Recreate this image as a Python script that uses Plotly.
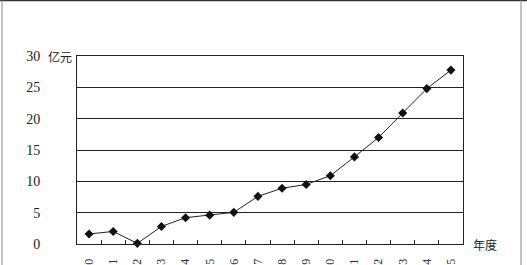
import plotly.graph_objects as go

years = [str(y) for y in range(1990, 2006)]
values = [1.6, 2.0, 0.1, 2.8, 4.2, 4.6, 5.05, 7.6, 8.9, 9.5, 10.9, 13.9, 17.0, 20.9, 24.8, 27.75]
y_ticks = [0, 5, 10, 15, 20, 25, 30]
y_tick_text = ["0", "5", "10", "15", "20", "25", "30"]
y_unit = "亿元"
x_unit = "年度"

W, H = 527, 265
L, R, T, B = 77, 64, 56, 21
pw, ph = W - L - R, H - T - B

def px(x):
    return (x - L) / pw

def py(y):
    return (H - B - y) / ph

fig = go.Figure()
fig.add_trace(go.Scatter(
    x=years, y=values, mode="lines+markers",
    line=dict(color="#222", width=1),
    marker=dict(symbol="diamond", size=7, color="#111"),
    cliponaxis=False, showlegend=False,
))

serif = "Liberation Serif, Times New Roman, serif"
cjk = "Noto Sans CJK SC"

fig.update_layout(
    width=W, height=H, margin=dict(l=L, r=R, t=T, b=B, autoexpand=False),
    paper_bgcolor="white", plot_bgcolor="white",
    xaxis=dict(
        type="category", showgrid=False, showline=True, mirror=True,
        linecolor="#222", linewidth=1, ticks="inside", ticklen=4, tickcolor="#222",
        tickson="boundaries", tickangle=-90, automargin=False,
        ticklabelstandoff=9,
        tickfont=dict(family=serif, size=12, color="#333"),
        range=[-0.5, len(years) - 0.5],
    ),
    yaxis=dict(
        range=[0, 30], tickvals=y_ticks, ticktext=y_tick_text,
        showgrid=True, gridcolor="#222", gridwidth=1,
        showline=True, mirror=True, linecolor="#222", linewidth=1,
        ticks="", ticklabelstandoff=33, automargin=False, zeroline=False,
        tickfont=dict(family=serif, size=14, color="#222"),
    ),
    font=dict(family=serif),
)

fig.add_annotation(x=px(46), y=30, xref="paper", yref="y", text=y_unit,
                   showarrow=False, xanchor="left", yanchor="middle",
                   font=dict(family=cjk, size=12, color="#222"))
fig.add_annotation(x=px(471), y=0, xref="paper", yref="y", text=x_unit,
                   showarrow=False, xanchor="left", yanchor="middle",
                   font=dict(family=cjk, size=12, color="#222"))

# outer frame
fig.add_shape(type="line", xref="paper", yref="paper", x0=px(0), x1=px(W), y0=py(0.5), y1=py(0.5),
              line=dict(color="#333", width=1.5))
fig.add_shape(type="line", xref="paper", yref="paper", x0=px(2), x1=px(2), y0=py(0), y1=py(H),
              line=dict(color="#888", width=1))
fig.add_shape(type="line", xref="paper", yref="paper", x0=px(521), x1=px(521), y0=py(0), y1=py(H),
              line=dict(color="#888", width=1))

fig.write_html("out.html")
